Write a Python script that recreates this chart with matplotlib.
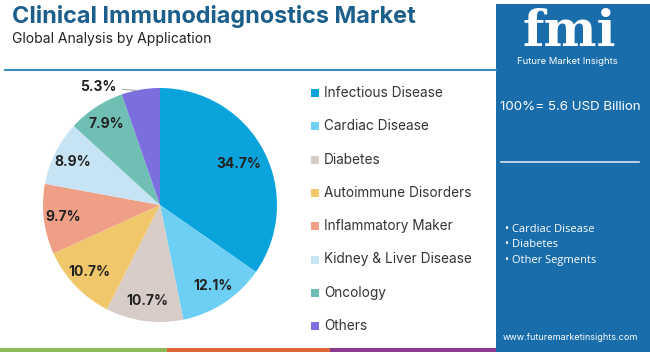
import matplotlib.pyplot as plt
from matplotlib.patches import Rectangle
import numpy as np

# ---------------------------------------------------------------
# Data
# ---------------------------------------------------------------
categories = ["Infectious Disease", "Cardiac Disease", "Diabetes",
              "Autoimmune Disorders", "Inflammatory Maker",
              "Kidney & Liver Disease", "Oncology", "Others"]
shares = [34.7, 12.1, 10.7, 10.7, 9.7, 8.9, 7.9, 5.3]
colors = ["#0ba3dc", "#6dcff3", "#d8ccc8", "#f0c86b",
          "#ef9f86", "#c6e4f3", "#70bfb5", "#7b6fe0"]
panel_bullets = ["Cardiac Disease", "Diabetes", "Other Segments"]

W, H = 650, 352
fig = plt.figure(figsize=(W / 100, H / 100), dpi=100)
fig.patch.set_facecolor("white")

def px(x, y):
    return x / W, 1 - y / H

# ---------------------------------------------------------------
# Header
# ---------------------------------------------------------------
fig.text(*px(12, 17), "Clinical Immunodiagnostics Market", fontsize=16.9,
         fontweight="bold", color="#1c5f8d", family="Inter", va="center", ha="left")
fig.text(*px(12, 39), "Global Analysis by Application", fontsize=10,
         color="#222222", family="Inter", va="center", ha="left")
fig.add_artist(plt.Line2D([5 / W, 496 / W], [1 - 69.5 / H] * 2, color="#3a8dbd", lw=1.5))

# ---------------------------------------------------------------
# Pie
# ---------------------------------------------------------------
cx, cy, r = 160, 205, 117
ax = fig.add_axes([(cx - r) / W, (H - cy - r) / H, 2 * r / W, 2 * r / H])
wedges, _ = ax.pie(shares, colors=colors, startangle=90, counterclock=False,
                   wedgeprops=dict(linewidth=0))
ax.set_xlim(-1, 1); ax.set_ylim(-1, 1)
ax.set_aspect("equal"); ax.axis("off")

for i, (w, v) in enumerate(zip(wedges, shares)):
    ang = np.deg2rad((w.theta1 + w.theta2) / 2)
    if i == len(shares) - 1:
        x0, y0 = np.cos(ang) * 0.99, np.sin(ang) * 0.99
        ax.annotate(f"{v}%", xy=(x0, y0), xytext=(-0.37, 1.005),
                    ha="right", va="center", fontsize=10, fontweight="bold",
                    color="#222222", family="Inter",
                    arrowprops=dict(arrowstyle="-", color="#aaaaaa", lw=0.8))
    else:
        d = 0.76 if i == 0 else 0.83
        ax.text(np.cos(ang) * d, np.sin(ang) * d, f"{v}%", ha="center", va="center",
                fontsize=10, fontweight="bold", color="#222222", family="Inter")

# ---------------------------------------------------------------
# Legend
# ---------------------------------------------------------------
for i, (c, col) in enumerate(zip(categories, colors)):
    y = 93 + i * 33.3
    fig.add_artist(Rectangle(px(311, y + 4), 8 / W, 8 / H, color=col, lw=0))
    fig.text(*px(324, y), c, fontsize=9.8, color="#333333", family="Inter",
             va="center", ha="left")

# ---------------------------------------------------------------
# Right panel
# ---------------------------------------------------------------
fig.add_artist(Rectangle(px(496, H), (W - 496) / W, (H - 4) / H,
                         color="#1a6dab", lw=0))
fig.text(*px(569, 33), "fmi", fontsize=36, fontweight="bold", color="white",
         family="DejaVu Serif", va="center", ha="center")
fig.text(*px(567, 61), "Future Market Insights", fontsize=6.8, color="white",
         family="Inter", va="center", ha="center")
fig.text(*px(570, 107), "100%= 5.6 USD Billion", fontsize=9.6, color="white",
         family="Inter", va="center", ha="center")
fig.add_artist(plt.Line2D([501 / W, 639 / W], [1 - 162 / H] * 2, color="#d8e6f2", lw=1.2))
for i, b in enumerate(panel_bullets):
    fig.text(*px(505, 229 + i * 15.5), "\u2022 " + b, fontsize=8, color="white",
             family="Open Sans", va="center", ha="left")
fig.text(*px(570, 338), "www.futuremarketinsights.com", fontsize=6.5, color="white",
         family="Inter", va="center", ha="center")

# bottom colour strip
for x0, x1, col in [(0, 167, "#8dbb5a"), (167, 330, "#e0673a"), (330, 496, "#8a3b8f")]:
    fig.add_artist(Rectangle(px(x0, H), (x1 - x0) / W, 4 / H, color=col, lw=0))

fig.savefig("out.png", dpi=100)
